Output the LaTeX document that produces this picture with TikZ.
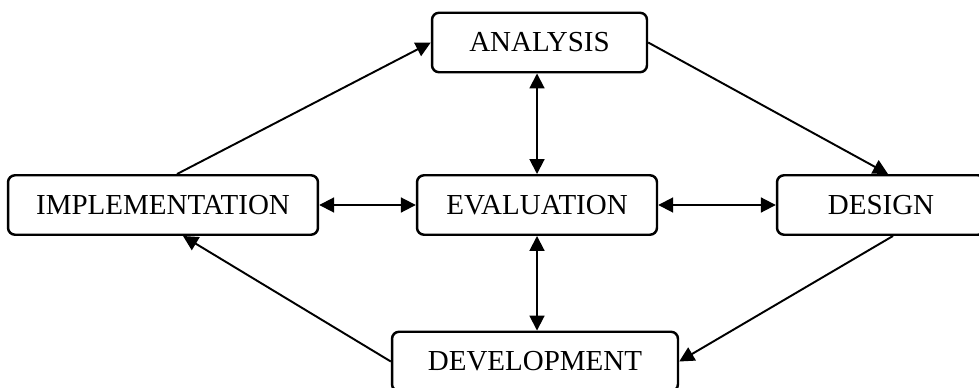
\documentclass[tikz,border=0pt]{standalone}
\usepackage{fontspec}
\setmainfont{Liberation Serif}
\usetikzlibrary{arrows.meta}

\begin{document}
\begin{tikzpicture}[x=0.02cm, y=-0.02cm,
    line width=1.1pt,
    >={Triangle[length=8.5pt,width=8.5pt]},
    box/.style = {
      draw,
      line width=1.4pt,
      rounded corners=4pt,
      minimum height=1.19cm,
      inner sep=0pt,
      font=\fontsize{16.5}{20}\selectfont
    }
  ]
  \clip (0,0) rectangle (979,388);

  \node[box, minimum width=4.3cm]  (ana) at (539.5,42.5) {ANALYSIS};
  \node[box, minimum width=6.2cm]  (imp) at (163,205)    {IMPLEMENTATION};
  \node[box, minimum width=4.8cm]  (eva) at (537,205)    {EVALUATION};
  \node[box, minimum width=4.16cm] (des) at (881,205)    {DESIGN};
  \node[box, minimum width=5.72cm] (dev) at (535,361.5)  {DEVELOPMENT};

  \draw[->] ([xshift=0.28cm]imp.north) -- (ana.west);
  \draw[->] (ana.east) -- ([xshift=0.14cm]des.north);
  \draw[->] ([xshift=0.24cm]des.south) -- (dev.east);
  \draw[->] (dev.west) -- ([xshift=0.4cm]imp.south);

  \draw[<->] (eva.north |- ana.south) -- (eva.north);
  \draw[<->] (eva.south) -- (eva.south |- dev.north);
  \draw[<->] (imp) -- (eva);
  \draw[<->] (eva) -- (des);
\end{tikzpicture}
\end{document}
